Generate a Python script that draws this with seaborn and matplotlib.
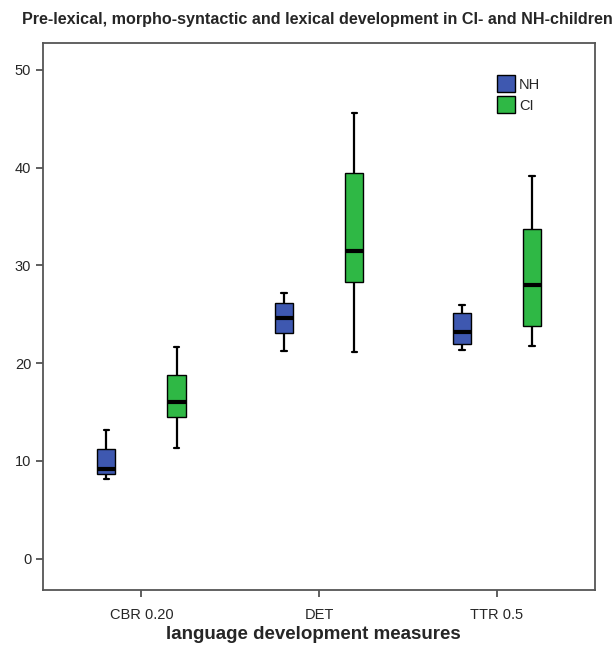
import pandas as pd
import numpy as np
import seaborn as sns
import matplotlib.pyplot as plt
from matplotlib.patches import Patch

# five-number summaries: min, q1, median, q3, max
measures = ["CBR 0.20", "DET", "TTR 0.5"]
groups = ["NH", "CI"]
nh_cbr = [8.2, 8.7, 9.2, 11.2, 13.2]
ci_cbr = [11.3, 14.5, 16.0, 18.8, 21.7]
nh_det = [21.2, 23.1, 24.6, 26.2, 27.2]
ci_det = [21.1, 28.3, 31.5, 39.4, 45.6]
nh_ttr = [21.3, 22.0, 23.2, 25.1, 25.9]
ci_ttr = [21.8, 23.8, 28.0, 33.7, 39.1]

rows = []
for m, g, vals in [("CBR 0.20", "NH", nh_cbr), ("CBR 0.20", "CI", ci_cbr),
                   ("DET", "NH", nh_det), ("DET", "CI", ci_det),
                   ("TTR 0.5", "NH", nh_ttr), ("TTR 0.5", "CI", ci_ttr)]:
    for v in vals:
        rows.append({"measure": m, "group": g, "value": v})
df = pd.DataFrame(rows)

colors = {"NH": "#3E58B0", "CI": "#2FB845"}

sns.set_style("white")
plt.rcParams['font.family'] = ['Liberation Sans', 'DejaVu Sans']

fig = plt.figure(figsize=(6.16, 6.5), dpi=100)
ax = fig.add_axes([0.0698, 0.0923, 0.896, 0.841])

sns.boxplot(data=df, x="measure", y="value", hue="group", order=measures,
            hue_order=groups, palette=colors, saturation=1, whis=(0, 100),
            width=0.79, gap=0.74, linewidth=1, linecolor="black", ax=ax,
            legend=False,
            medianprops=dict(color="black", linewidth=3),
            whiskerprops=dict(color="black", linewidth=1.6),
            capprops=dict(color="black", linewidth=1.6),
            boxprops=dict(edgecolor="black", linewidth=1),
            capwidths=0.03)

ax.set_xlim(-0.554, 2.551)
ax.set_ylim(-3.2, 52.7)
ax.set_yticks([0, 10, 20, 30, 40, 50])
ax.set_ylabel("")
ax.set_xlabel("language development measures", fontsize=13.5, fontweight="bold",
              labelpad=5)
ax.xaxis.set_label_coords(0.49, -0.065)
ax.tick_params(axis="both", direction="out", length=5, width=1.2,
               color="#444444", labelsize=10.5, left=True, bottom=True)
ax.tick_params(axis="x", pad=8)
for s in ax.spines.values():
    s.set_color("#555555")
    s.set_linewidth(1.3)

handles = [Patch(facecolor=colors[g], edgecolor="black", label=g) for g in groups]
ax.legend(handles=handles, loc="upper left", bbox_to_anchor=(0.81, 0.955),
          frameon=False, fontsize=10.5, handlelength=1.2, handleheight=1.4,
          handletextpad=0.3, labelspacing=0.3, borderpad=0)

fig.suptitle("Pre-lexical, morpho-syntactic and lexical development in CI- and NH-children",
             x=0.515, y=0.982, fontsize=11.6, fontweight="bold")

fig.savefig("out.png", dpi=100)
